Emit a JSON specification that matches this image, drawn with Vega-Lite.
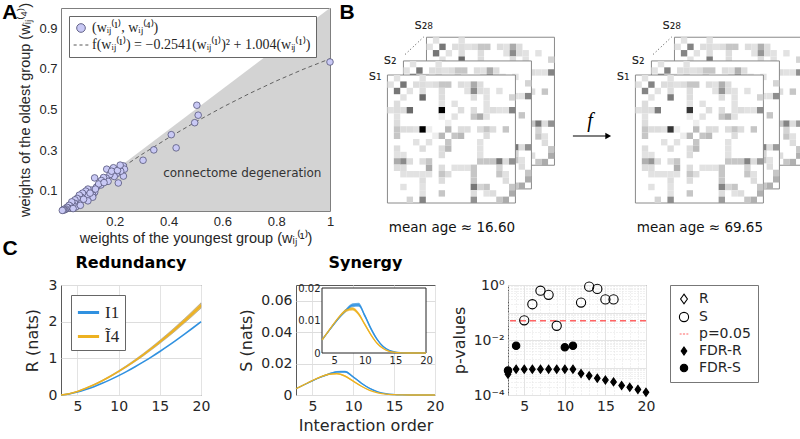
{
"$schema": "https://vega.github.io/schema/vega-lite/v6.json",
"padding": {"left": 1, "top": 1, "right": 0, "bottom": 0},
"background": "white",
"config": {
  "font": "DejaVu Sans",
  "view": {"stroke": "#5a5a5a", "strokeWidth": 1},
  "axis": {"domain": false, "ticks": false, "labelFlush": false, "labelColor": "#262626", "titleColor": "#262626", "titleFontWeight": "normal", "gridColor": "#e3e3e3", "labelOverlap": false, "labelBound": false},
  "legend": {"labelColor": "#262626"}
},
"datasets": {
  "tri": [{"u": 0}, {"u": 1}],
  "fit": [{"x": 0, "f": 0}, {"x": 0.1, "f": 0.0979}, {"x": 0.2, "f": 0.1906}, {"x": 0.3, "f": 0.2783}, {"x": 0.4, "f": 0.3609}, {"x": 0.5, "f": 0.4385}, {"x": 0.6, "f": 0.5109}, {"x": 0.7, "f": 0.5783}, {"x": 0.8, "f": 0.6406}, {"x": 0.9, "f": 0.6978}, {"x": 1.0, "f": 0.7499}],
  "pts": [
    {"x":1.0,"y":0.734,"s":"pts"},{"x":0.505,"y":0.521,"s":"pts"},{"x":0.51,"y":0.472,"s":"pts"},{"x":0.497,"y":0.435,"s":"pts"},{"x":0.41,"y":0.376,"s":"pts"},{"x":0.428,"y":0.311,"s":"pts"},{"x":0.345,"y":0.301,"s":"pts"},{"x":0.305,"y":0.25,"s":"pts"},{"x":0.232,"y":0.222,"s":"pts"},{"x":0.236,"y":0.206,"s":"pts"},{"x":0.232,"y":0.172,"s":"pts"},{"x":0.213,"y":0.138,"s":"pts"},{"x":0.222,"y":0.196,"s":"pts"},{"x":0.206,"y":0.184,"s":"pts"},{"x":0.198,"y":0.17,"s":"pts"},{"x":0.17,"y":0.206,"s":"pts"},{"x":0.182,"y":0.18,"s":"pts"},{"x":0.195,"y":0.213,"s":"pts"},{"x":0.168,"y":0.162,"s":"pts"},{"x":0.175,"y":0.146,"s":"pts"},{"x":0.158,"y":0.165,"s":"pts"},{"x":0.15,"y":0.15,"s":"pts"},{"x":0.148,"y":0.128,"s":"pts"},{"x":0.125,"y":0.163,"s":"pts"},{"x":0.132,"y":0.118,"s":"pts"},{"x":0.14,"y":0.133,"s":"pts"},{"x":0.115,"y":0.103,"s":"pts"},{"x":0.125,"y":0.092,"s":"pts"},{"x":0.118,"y":0.078,"s":"pts"},{"x":0.118,"y":0.068,"s":"pts"},{"x":0.1,"y":0.108,"s":"pts"},{"x":0.092,"y":0.098,"s":"pts"},{"x":0.088,"y":0.078,"s":"pts"},{"x":0.096,"y":0.07,"s":"pts"},{"x":0.1,"y":0.05,"s":"pts"},{"x":0.08,"y":0.088,"s":"pts"},{"x":0.076,"y":0.068,"s":"pts"},{"x":0.068,"y":0.078,"s":"pts"},{"x":0.072,"y":0.055,"s":"pts"},{"x":0.064,"y":0.048,"s":"pts"},{"x":0.06,"y":0.062,"s":"pts"},{"x":0.052,"y":0.055,"s":"pts"},{"x":0.05,"y":0.038,"s":"pts"},{"x":0.055,"y":0.02,"s":"pts"},{"x":0.044,"y":0.03,"s":"pts"},{"x":0.04,"y":0.045,"s":"pts"},{"x":0.036,"y":0.022,"s":"pts"},{"x":0.03,"y":0.028,"s":"pts"},{"x":0.028,"y":0.014,"s":"pts"},{"x":0.022,"y":0.018,"s":"pts"},{"x":0.018,"y":0.01,"s":"pts"},{"x":0.014,"y":0.006,"s":"pts"},{"x":0.01,"y":0.008,"s":"pts"},{"x":0.008,"y":0.004,"s":"pts"},{"x":0.005,"y":0.003,"s":"pts"},{"x":0.072,"y":0.028,"s":"pts"},{"x":0.084,"y":0.058,"s":"pts"},{"x":0.108,"y":0.088,"s":"pts"},{"x":0.128,"y":0.108,"s":"pts"},{"x":0.16,"y":0.14,"s":"pts"},{"x":0.188,"y":0.196,"s":"pts"},{"x":0.21,"y":0.2,"s":"pts"},{"x":0.22,"y":0.226,"s":"pts"},{"x":0.045,"y":0.012,"s":"pts"}
  ],
  "cells": [
    {"i":0,"j":1,"a":0.1,"b":0.1},{"i":0,"j":5,"a":0.1,"b":0.1},{"i":1,"j":2,"a":0.5,"b":0.45},{"i":1,"j":4,"a":0.12,"b":0.12},{"i":1,"j":5,"a":0.12,"b":0.12},{"i":1,"j":6,"a":0.1,"b":0.1},{"i":1,"j":7,"a":0.12,"b":0.12},{"i":1,"j":8,"a":0.2,"b":0.2},{"i":1,"j":9,"a":0.2,"b":0.2},{"i":1,"j":11,"a":0.12,"b":0.12},{"i":1,"j":12,"a":0.1,"b":0.1},{"i":1,"j":13,"a":0.3,"b":0.28},{"i":1,"j":14,"a":0.12,"b":0.12},{"i":2,"j":3,"a":0.1,"b":0.1},{"i":2,"j":5,"a":0.12,"b":0.12},{"i":2,"j":8,"a":0.12,"b":0.12},{"i":2,"j":12,"a":0.1,"b":0.1},{"i":2,"j":13,"a":0.42,"b":0.38},{"i":2,"j":14,"a":0.12,"b":0.12},{"i":2,"j":15,"a":0.1,"b":0.1},{"i":2,"j":17,"a":0.1,"b":0.1},{"i":3,"j":5,"a":0.55,"b":0.48},{"i":3,"j":8,"a":0.12,"b":0.12},{"i":3,"j":13,"a":0.12,"b":0.12},{"i":3,"j":15,"a":0.1,"b":0.1},{"i":3,"j":19,"a":0.15,"b":0.15},{"i":4,"j":8,"a":0.1,"b":0.1},{"i":4,"j":10,"a":0.1,"b":0.1},{"i":4,"j":15,"a":0.1,"b":0.1},{"i":5,"j":8,"a":1.0,"b":0.78},{"i":5,"j":11,"a":0.12,"b":0.12},{"i":5,"j":13,"a":0.12,"b":0.12},{"i":5,"j":15,"a":0.1,"b":0.1},{"i":5,"j":16,"a":0.12,"b":0.12},{"i":5,"j":17,"a":0.1,"b":0.1},{"i":5,"j":18,"a":0.1,"b":0.1},{"i":5,"j":19,"a":0.45,"b":0.41},{"i":6,"j":8,"a":0.06,"b":0.06},{"i":6,"j":10,"a":0.1,"b":0.1},{"i":6,"j":13,"a":0.2,"b":0.2},{"i":6,"j":14,"a":0.3,"b":0.28},{"i":6,"j":15,"a":0.1,"b":0.1},{"i":7,"j":9,"a":0.06,"b":0.06},{"i":8,"j":9,"a":0.25,"b":0.24},{"i":8,"j":11,"a":0.12,"b":0.12},{"i":8,"j":12,"a":0.12,"b":0.12},{"i":8,"j":14,"a":0.12,"b":0.12},{"i":8,"j":15,"a":0.2,"b":0.2},{"i":8,"j":16,"a":0.12,"b":0.12},{"i":8,"j":18,"a":0.2,"b":0.2},{"i":9,"j":10,"a":0.2,"b":0.2},{"i":9,"j":11,"a":0.25,"b":0.24},{"i":9,"j":15,"a":0.12,"b":0.12},{"i":10,"j":14,"a":0.1,"b":0.1},{"i":11,"j":14,"a":0.1,"b":0.1},{"i":12,"j":14,"a":0.1,"b":0.1},{"i":13,"j":14,"a":0.2,"b":0.2},{"i":13,"j":15,"a":0.2,"b":0.2},{"i":13,"j":16,"a":0.2,"b":0.2},{"i":13,"j":17,"a":0.5,"b":0.45},{"i":13,"j":18,"a":0.12,"b":0.12},{"i":13,"j":19,"a":0.4,"b":0.36},{"i":14,"j":17,"a":0.15,"b":0.15},{"i":15,"j":17,"a":0.2,"b":0.2},{"i":15,"j":18,"a":0.1,"b":0.1},{"i":16,"j":18,"a":0.12,"b":0.12},{"i":17,"j":19,"a":0.2,"b":0.2},{"i":18,"j":19,"a":0.3,"b":0.28}
  ],
  "red": [
    {"x":3,"s":"I1","m":0},{"x":4,"s":"I1","m":0.029},{"x":5,"s":"I1","m":0.08},{"x":6,"s":"I1","m":0.148},{"x":7,"s":"I1","m":0.228},{"x":8,"s":"I1","m":0.319},{"x":9,"s":"I1","m":0.42},{"x":10,"s":"I1","m":0.529},{"x":11,"s":"I1","m":0.645},{"x":12,"s":"I1","m":0.771},{"x":13,"s":"I1","m":0.902},{"x":14,"s":"I1","m":1.041},{"x":15,"s":"I1","m":1.187},{"x":16,"s":"I1","m":1.338},{"x":17,"s":"I1","m":1.496},{"x":18,"s":"I1","m":1.659},{"x":19,"s":"I1","m":1.827},{"x":20,"s":"I1","m":2.0},
    {"x":3,"s":"I4","m":0,"lo":0,"hi":0},{"x":4,"s":"I4","m":0.035,"lo":0.034,"hi":0.036},{"x":5,"s":"I4","m":0.098,"lo":0.095,"hi":0.101},{"x":6,"s":"I4","m":0.181,"lo":0.176,"hi":0.186},{"x":7,"s":"I4","m":0.278,"lo":0.27,"hi":0.286},{"x":8,"s":"I4","m":0.389,"lo":0.377,"hi":0.401},{"x":9,"s":"I4","m":0.512,"lo":0.497,"hi":0.527},{"x":10,"s":"I4","m":0.645,"lo":0.626,"hi":0.664},{"x":11,"s":"I4","m":0.787,"lo":0.763,"hi":0.811},{"x":12,"s":"I4","m":0.94,"lo":0.912,"hi":0.968},{"x":13,"s":"I4","m":1.1,"lo":1.067,"hi":1.133},{"x":14,"s":"I4","m":1.27,"lo":1.232,"hi":1.308},{"x":15,"s":"I4","m":1.448,"lo":1.405,"hi":1.491},{"x":16,"s":"I4","m":1.632,"lo":1.583,"hi":1.681},{"x":17,"s":"I4","m":1.824,"lo":1.769,"hi":1.879},{"x":18,"s":"I4","m":2.023,"lo":1.962,"hi":2.084},{"x":19,"s":"I4","m":2.228,"lo":2.161,"hi":2.295},{"x":20,"s":"I4","m":2.44,"lo":2.367,"hi":2.513}
  ],
  "syn": [
    {"x":3,"s":"I1","m":0.004,"lo":0.0038,"hi":0.0042},{"x":4,"s":"I1","m":0.0065,"lo":0.0062,"hi":0.0068},{"x":5,"s":"I1","m":0.009,"lo":0.0087,"hi":0.0093},{"x":6,"s":"I1","m":0.0113,"lo":0.0109,"hi":0.0117},{"x":7,"s":"I1","m":0.0133,"lo":0.0128,"hi":0.0138},{"x":8,"s":"I1","m":0.0147,"lo":0.0141,"hi":0.0153},{"x":9,"s":"I1","m":0.0148,"lo":0.0142,"hi":0.0155},{"x":10,"s":"I1","m":0.0115,"lo":0.0109,"hi":0.0121},{"x":11,"s":"I1","m":0.0075,"lo":0.007,"hi":0.008},{"x":12,"s":"I1","m":0.0042,"lo":0.0039,"hi":0.0046},{"x":13,"s":"I1","m":0.002,"lo":0.0018,"hi":0.0022},{"x":14,"s":"I1","m":0.0008,"lo":0.0007,"hi":0.0009},{"x":15,"s":"I1","m":0.0003,"lo":0.0002,"hi":0.0004},{"x":16,"s":"I1","m":0.0001,"lo":0.00005,"hi":0.00015},{"x":17,"s":"I1","m":0,"lo":0,"hi":0.00003},{"x":18,"s":"I1","m":0,"lo":0,"hi":0},{"x":19,"s":"I1","m":0,"lo":0,"hi":0},{"x":20,"s":"I1","m":0,"lo":0,"hi":0},
    {"x":3,"s":"I4","m":0.004,"lo":0.0038,"hi":0.0042},{"x":4,"s":"I4","m":0.0066,"lo":0.0063,"hi":0.0069},{"x":5,"s":"I4","m":0.0092,"lo":0.0088,"hi":0.0095},{"x":6,"s":"I4","m":0.0115,"lo":0.0111,"hi":0.0119},{"x":7,"s":"I4","m":0.0132,"lo":0.0127,"hi":0.0137},{"x":8,"s":"I4","m":0.0136,"lo":0.0131,"hi":0.0141},{"x":9,"s":"I4","m":0.012,"lo":0.0115,"hi":0.0125},{"x":10,"s":"I4","m":0.0088,"lo":0.0084,"hi":0.0092},{"x":11,"s":"I4","m":0.0056,"lo":0.0053,"hi":0.0059},{"x":12,"s":"I4","m":0.003,"lo":0.0028,"hi":0.0032},{"x":13,"s":"I4","m":0.0014,"lo":0.0013,"hi":0.0015},{"x":14,"s":"I4","m":0.0005,"lo":0.0004,"hi":0.0006},{"x":15,"s":"I4","m":0.0002,"lo":0.00015,"hi":0.00025},{"x":16,"s":"I4","m":0.00005,"lo":0.00003,"hi":0.00007},{"x":17,"s":"I4","m":0,"lo":0,"hi":0},{"x":18,"s":"I4","m":0,"lo":0,"hi":0},{"x":19,"s":"I4","m":0,"lo":0,"hi":0},{"x":20,"s":"I4","m":0,"lo":0,"hi":0}
  ],
  "pv": [
    {"x":3,"p":0.00057,"s":"FDR-R"},{"x":4,"p":0.00087,"s":"FDR-R"},{"x":5,"p":0.00087,"s":"FDR-R"},{"x":6,"p":0.00087,"s":"FDR-R"},{"x":7,"p":0.00087,"s":"FDR-R"},{"x":8,"p":0.00087,"s":"FDR-R"},{"x":9,"p":0.00087,"s":"FDR-R"},{"x":10,"p":0.00087,"s":"FDR-R"},{"x":11,"p":0.00087,"s":"FDR-R"},{"x":12,"p":0.0006,"s":"FDR-R"},{"x":13,"p":0.0005,"s":"FDR-R"},{"x":14,"p":0.00041,"s":"FDR-R"},{"x":15,"p":0.00035,"s":"FDR-R"},{"x":16,"p":0.0003,"s":"FDR-R"},{"x":17,"p":0.00022,"s":"FDR-R"},{"x":18,"p":0.00019,"s":"FDR-R"},{"x":19,"p":0.00016,"s":"FDR-R"},{"x":20,"p":0.000125,"s":"FDR-R"},
    {"x":3,"p":0.00078,"s":"FDR-S"},{"x":4,"p":0.0062,"s":"FDR-S"},{"x":10,"p":0.0054,"s":"FDR-S"},{"x":11,"p":0.0062,"s":"FDR-S"},
    {"x":5,"p":0.052,"s":"S"},{"x":6,"p":0.2,"s":"S"},{"x":7,"p":0.62,"s":"S"},{"x":8,"p":0.44,"s":"S"},{"x":9,"p":0.033,"s":"S"},{"x":12,"p":0.23,"s":"S"},{"x":13,"p":0.87,"s":"S"},{"x":14,"p":0.72,"s":"S"},{"x":15,"p":0.3,"s":"S"},{"x":16,"p":0.3,"s":"S"}
  ]
},
"spacing": -8,
"resolve": {"scale": {"color": "independent", "fill": "independent", "stroke": "independent", "shape": "independent", "size": "independent"}, "legend": {"color": "independent", "fill": "independent", "stroke": "independent", "shape": "independent", "size": "independent"}},
"vconcat": [
{
  "spacing": 12,
  "bounds": "flush",
  "resolve": {"scale": {"color": "independent", "fill": "independent", "stroke": "independent", "shape": "independent", "size": "independent"}, "legend": {"color": "independent", "fill": "independent", "stroke": "independent", "shape": "independent", "size": "independent"}},
  "hconcat": [
  {
    "width": 269, "height": 203,
    "view": {"stroke": "#7f7f7f"},
    "layer": [
      {"data": {"name": "tri"}, "mark": {"type": "area", "color": "#d3d3d3"},
       "encoding": {
         "x": {"field": "u", "type": "quantitative", "scale": {"domain": [0, 1], "nice": false}, "axis": {"values": [0.2, 0.4, 0.6, 0.8, 1], "format": "~g", "title": "weights of the youngest group (wᵢⱼ⁽¹⁾)", "labelFont": "Liberation Sans", "labelFontSize": 13, "titleFont": "Liberation Sans", "titleFontSize": 14.5, "labelPadding": 4, "titlePadding": 3, "grid": false, "labelOverlap": false}},
         "y": {"field": "u", "type": "quantitative", "scale": {"domain": [0, 1], "nice": false}, "axis": {"values": [0.1, 0.2, 0.3, 0.4, 0.5, 0.6, 0.7, 0.8, 0.9, 1], "format": "~g", "title": "weights of the oldest group (wᵢⱼ⁽⁴⁾)", "labelFont": "Liberation Sans", "labelFontSize": 13, "titleFont": "Liberation Sans", "titleFontSize": 14.5, "labelPadding": 4, "titlePadding": 6, "grid": false, "labelOverlap": false}},
         "y2": {"datum": 0}
       }},
      {"data": {"name": "fit"}, "mark": {"type": "line", "color": "#555555", "strokeDash": [4, 3], "strokeWidth": 0.9},
       "encoding": {"x": {"field": "x", "type": "quantitative"}, "y": {"field": "f", "type": "quantitative"}}},
      {"data": {"name": "pts"}, "mark": {"type": "point", "filled": true, "size": 44, "strokeWidth": 0.8, "opacity": 1},
       "encoding": {
         "x": {"field": "x", "type": "quantitative"},
         "y": {"field": "y", "type": "quantitative"},
         "shape": {"field": "s", "type": "nominal", "scale": {"domain": ["pts", "fit"], "range": ["circle", "M-1.7,0H-1.0M-0.35,0H0.35M1.0,0H1.7"]},
           "legend": {"title": null, "orient": "top-left", "offset": 8, "labelExpr": "datum.value == 'pts' ? '(wᵢⱼ⁽¹⁾, wᵢⱼ⁽⁴⁾)' : 'f(wᵢⱼ⁽¹⁾) = −0.2541(wᵢⱼ⁽¹⁾)² + 1.004(wᵢⱼ⁽¹⁾)'", "labelFont": "Liberation Serif", "labelFontSize": 14, "fillColor": "#ffffff", "strokeColor": "#666666", "padding": 5, "symbolSize": 75, "symbolStrokeWidth": 0.9, "labelLimit": 400, "rowPadding": 3}},
         "fill": {"field": "s", "type": "nominal", "scale": {"domain": ["pts", "fit"], "range": ["#c9c9f5", "transparent"]}},
         "stroke": {"field": "s", "type": "nominal", "scale": {"domain": ["pts", "fit"], "range": ["#55557a", "#444444"]}}
       }},
      {"data": {"values": [{}]}, "mark": {"type": "text", "font": "DejaVu Sans", "fontSize": 12, "color": "#333333"},
       "encoding": {"x": {"datum": 0.674}, "y": {"datum": 0.187}, "text": {"value": "connectome degeneration"}}},
      {"data": {"values": [{}]}, "mark": {"type": "text", "font": "Liberation Sans", "fontSize": 21, "fontWeight": "bold", "color": "#000000"},
       "encoding": {"x": {"datum": -0.19}, "y": {"datum": 0.975}, "text": {"value": "A"}}}
    ]
  },
  {
    "width": 460, "height": 203,
    "view": {"stroke": null},
    "layer": [
      {"data": {"values": [{}]}, "mark": {"type": "rect", "fill": "#ffffff", "stroke": "#8a8a8a", "strokeWidth": 1},
       "encoding": {"x": {"datum": 6.1, "type": "quantitative", "scale": {"domain": [-7.1, 64.78], "nice": false, "zero": false}, "axis": null}, "x2": {"datum": 26.1}, "y": {"datum": -5.9, "type": "quantitative", "scale": {"domain": [-10.47, 21.25], "nice": false, "zero": false, "reverse": true}, "axis": null}, "y2": {"datum": 14.1}}},
      {"data": {"name": "cells"}, "transform": [{"fold": ["i", "j"], "as": ["k", "row"]}, {"calculate": "(datum.k == 'i' ? datum.j : datum.i) + 6.1", "as": "x0"}, {"calculate": "datum.x0 + 1", "as": "x1"}, {"calculate": "datum.row - 5.9", "as": "y0"}, {"calculate": "datum.y0 + 1", "as": "y1"}],
       "mark": {"type": "rect", "strokeWidth": 0},
       "encoding": {"x": {"field": "x0", "type": "quantitative", "scale": {"domain": [-7.1, 64.78], "nice": false, "zero": false}, "axis": null}, "x2": {"field": "x1"}, "y": {"field": "y0", "type": "quantitative", "scale": {"domain": [-10.47, 21.25], "nice": false, "zero": false, "reverse": true}, "axis": null}, "y2": {"field": "y1"}, "color": {"field": "a", "type": "quantitative", "scale": {"domain": [0, 1], "range": ["#ffffff", "#000000"]}, "legend": null}}},
      {"data": {"values": [{}]}, "mark": {"type": "rect", "fill": "#ffffff", "stroke": "#8a8a8a", "strokeWidth": 1},
       "encoding": {"x": {"datum": 2.5, "type": "quantitative", "scale": {"domain": [-7.1, 64.78], "nice": false, "zero": false}, "axis": null}, "x2": {"datum": 22.5}, "y": {"datum": -2.2, "type": "quantitative", "scale": {"domain": [-10.47, 21.25], "nice": false, "zero": false, "reverse": true}, "axis": null}, "y2": {"datum": 17.8}}},
      {"data": {"name": "cells"}, "transform": [{"fold": ["i", "j"], "as": ["k", "row"]}, {"calculate": "(datum.k == 'i' ? datum.j : datum.i) + 2.5", "as": "x0"}, {"calculate": "datum.x0 + 1", "as": "x1"}, {"calculate": "datum.row - 2.2", "as": "y0"}, {"calculate": "datum.y0 + 1", "as": "y1"}],
       "mark": {"type": "rect", "strokeWidth": 0},
       "encoding": {"x": {"field": "x0", "type": "quantitative", "scale": {"domain": [-7.1, 64.78], "nice": false, "zero": false}, "axis": null}, "x2": {"field": "x1"}, "y": {"field": "y0", "type": "quantitative", "scale": {"domain": [-10.47, 21.25], "nice": false, "zero": false, "reverse": true}, "axis": null}, "y2": {"field": "y1"}, "color": {"field": "a", "type": "quantitative", "scale": {"domain": [0, 1], "range": ["#ffffff", "#000000"]}, "legend": null}}},
      {"data": {"values": [{}]}, "mark": {"type": "rect", "fill": "#ffffff", "stroke": "#8a8a8a", "strokeWidth": 1},
       "encoding": {"x": {"datum": 0, "type": "quantitative", "scale": {"domain": [-7.1, 64.78], "nice": false, "zero": false}, "axis": null}, "x2": {"datum": 20}, "y": {"datum": 0, "type": "quantitative", "scale": {"domain": [-10.47, 21.25], "nice": false, "zero": false, "reverse": true}, "axis": null}, "y2": {"datum": 20}}},
      {"data": {"name": "cells"}, "transform": [{"fold": ["i", "j"], "as": ["k", "row"]}, {"calculate": "(datum.k == 'i' ? datum.j : datum.i)", "as": "x0"}, {"calculate": "datum.x0 + 1", "as": "x1"}, {"calculate": "datum.row", "as": "y0"}, {"calculate": "datum.y0 + 1", "as": "y1"}],
       "mark": {"type": "rect", "strokeWidth": 0},
       "encoding": {"x": {"field": "x0", "type": "quantitative", "scale": {"domain": [-7.1, 64.78], "nice": false, "zero": false}, "axis": null}, "x2": {"field": "x1"}, "y": {"field": "y0", "type": "quantitative", "scale": {"domain": [-10.47, 21.25], "nice": false, "zero": false, "reverse": true}, "axis": null}, "y2": {"field": "y1"}, "color": {"field": "a", "type": "quantitative", "scale": {"domain": [0, 1], "range": ["#ffffff", "#000000"]}, "legend": null}}},
      {"data": {"values": [{}]}, "mark": {"type": "rect", "fill": "#ffffff", "stroke": "#8a8a8a", "strokeWidth": 1},
       "encoding": {"x": {"datum": 44.85, "type": "quantitative", "scale": {"domain": [-7.1, 64.78], "nice": false, "zero": false}, "axis": null}, "x2": {"datum": 64.85}, "y": {"datum": -5.9, "type": "quantitative", "scale": {"domain": [-10.47, 21.25], "nice": false, "zero": false, "reverse": true}, "axis": null}, "y2": {"datum": 14.1}}},
      {"data": {"name": "cells"}, "transform": [{"fold": ["i", "j"], "as": ["k", "row"]}, {"calculate": "(datum.k == 'i' ? datum.j : datum.i) + 44.85", "as": "x0"}, {"calculate": "datum.x0 + 1", "as": "x1"}, {"calculate": "datum.row - 5.9", "as": "y0"}, {"calculate": "datum.y0 + 1", "as": "y1"}],
       "mark": {"type": "rect", "strokeWidth": 0},
       "encoding": {"x": {"field": "x0", "type": "quantitative", "scale": {"domain": [-7.1, 64.78], "nice": false, "zero": false}, "axis": null}, "x2": {"field": "x1"}, "y": {"field": "y0", "type": "quantitative", "scale": {"domain": [-10.47, 21.25], "nice": false, "zero": false, "reverse": true}, "axis": null}, "y2": {"field": "y1"}, "color": {"field": "b", "type": "quantitative", "scale": {"domain": [0, 1], "range": ["#ffffff", "#000000"]}, "legend": null}}},
      {"data": {"values": [{}]}, "mark": {"type": "rect", "fill": "#ffffff", "stroke": "#8a8a8a", "strokeWidth": 1},
       "encoding": {"x": {"datum": 41.25, "type": "quantitative", "scale": {"domain": [-7.1, 64.78], "nice": false, "zero": false}, "axis": null}, "x2": {"datum": 61.25}, "y": {"datum": -2.2, "type": "quantitative", "scale": {"domain": [-10.47, 21.25], "nice": false, "zero": false, "reverse": true}, "axis": null}, "y2": {"datum": 17.8}}},
      {"data": {"name": "cells"}, "transform": [{"fold": ["i", "j"], "as": ["k", "row"]}, {"calculate": "(datum.k == 'i' ? datum.j : datum.i) + 41.25", "as": "x0"}, {"calculate": "datum.x0 + 1", "as": "x1"}, {"calculate": "datum.row - 2.2", "as": "y0"}, {"calculate": "datum.y0 + 1", "as": "y1"}],
       "mark": {"type": "rect", "strokeWidth": 0},
       "encoding": {"x": {"field": "x0", "type": "quantitative", "scale": {"domain": [-7.1, 64.78], "nice": false, "zero": false}, "axis": null}, "x2": {"field": "x1"}, "y": {"field": "y0", "type": "quantitative", "scale": {"domain": [-10.47, 21.25], "nice": false, "zero": false, "reverse": true}, "axis": null}, "y2": {"field": "y1"}, "color": {"field": "b", "type": "quantitative", "scale": {"domain": [0, 1], "range": ["#ffffff", "#000000"]}, "legend": null}}},
      {"data": {"values": [{}]}, "mark": {"type": "rect", "fill": "#ffffff", "stroke": "#8a8a8a", "strokeWidth": 1},
       "encoding": {"x": {"datum": 38.75, "type": "quantitative", "scale": {"domain": [-7.1, 64.78], "nice": false, "zero": false}, "axis": null}, "x2": {"datum": 58.75}, "y": {"datum": 0, "type": "quantitative", "scale": {"domain": [-10.47, 21.25], "nice": false, "zero": false, "reverse": true}, "axis": null}, "y2": {"datum": 20}}},
      {"data": {"name": "cells"}, "transform": [{"fold": ["i", "j"], "as": ["k", "row"]}, {"calculate": "(datum.k == 'i' ? datum.j : datum.i) + 38.75", "as": "x0"}, {"calculate": "datum.x0 + 1", "as": "x1"}, {"calculate": "datum.row", "as": "y0"}, {"calculate": "datum.y0 + 1", "as": "y1"}],
       "mark": {"type": "rect", "strokeWidth": 0},
       "encoding": {"x": {"field": "x0", "type": "quantitative", "scale": {"domain": [-7.1, 64.78], "nice": false, "zero": false}, "axis": null}, "x2": {"field": "x1"}, "y": {"field": "y0", "type": "quantitative", "scale": {"domain": [-10.47, 21.25], "nice": false, "zero": false, "reverse": true}, "axis": null}, "y2": {"field": "y1"}, "color": {"field": "b", "type": "quantitative", "scale": {"domain": [0, 1], "range": ["#ffffff", "#000000"]}, "legend": null}}},
      {"data": {"values": [{}]}, "mark": {"type": "rule", "strokeDash": [1, 2.5], "color": "#444444", "strokeWidth": 1},
       "encoding": {"x": {"datum": 2.78, "type": "quantitative", "scale": {"domain": [-7.1, 64.78], "nice": false, "zero": false}, "axis": null}, "x2": {"datum": 5.66}, "y": {"datum": -3.23, "type": "quantitative", "scale": {"domain": [-10.47, 21.25], "nice": false, "zero": false, "reverse": true}, "axis": null}, "y2": {"datum": -5.94}}},
      {"data": {"values": [{}]}, "mark": {"type": "rule", "strokeDash": [1, 2.5], "color": "#444444", "strokeWidth": 1},
       "encoding": {"x": {"datum": 41.53, "type": "quantitative", "scale": {"domain": [-7.1, 64.78], "nice": false, "zero": false}, "axis": null}, "x2": {"datum": 44.41}, "y": {"datum": -3.23, "type": "quantitative", "scale": {"domain": [-10.47, 21.25], "nice": false, "zero": false, "reverse": true}, "axis": null}, "y2": {"datum": -5.94}}},
      {"data": {"values": [{}]}, "mark": {"type": "rule", "color": "#000000", "strokeWidth": 1.2},
       "encoding": {"x": {"datum": 28.98, "type": "quantitative", "scale": {"domain": [-7.1, 64.78], "nice": false, "zero": false}, "axis": null}, "x2": {"datum": 34.2}, "y": {"datum": 9.53, "type": "quantitative", "scale": {"domain": [-10.47, 21.25], "nice": false, "zero": false, "reverse": true}, "axis": null}}},
      {"data": {"values": [{}]}, "mark": {"type": "point", "shape": "triangle-right", "filled": true, "color": "#000000", "size": 45, "opacity": 1},
       "encoding": {"x": {"datum": 34.5, "type": "quantitative", "scale": {"domain": [-7.1, 64.78], "nice": false, "zero": false}, "axis": null}, "y": {"datum": 9.53, "type": "quantitative", "scale": {"domain": [-10.47, 21.25], "nice": false, "zero": false, "reverse": true}, "axis": null}}},
      {"data": {"values": [{}]}, "mark": {"type": "text", "font": "Liberation Serif", "fontStyle": "italic", "fontSize": 20, "color": "#000000"},
       "encoding": {"x": {"datum": 31.64, "type": "quantitative", "scale": {"domain": [-7.1, 64.78], "nice": false, "zero": false}, "axis": null}, "y": {"datum": 7.2, "type": "quantitative", "scale": {"domain": [-10.47, 21.25], "nice": false, "zero": false, "reverse": true}, "axis": null}, "text": {"value": "f"}}},
      {"data": {"values": [{}]}, "mark": {"type": "text", "font": "Liberation Sans", "fontSize": 21, "fontWeight": "bold", "color": "#000000"},
       "encoding": {"x": {"datum": -6.32, "type": "quantitative", "scale": {"domain": [-7.1, 64.78], "nice": false, "zero": false}, "axis": null}, "y": {"datum": -9.69, "type": "quantitative", "scale": {"domain": [-10.47, 21.25], "nice": false, "zero": false, "reverse": true}, "axis": null}, "text": {"value": "B"}}},
      {"data": {"values": [{}]}, "mark": {"type": "text", "fontSize": 14, "color": "#222222"},
       "encoding": {"x": {"datum": -1.9, "type": "quantitative", "scale": {"domain": [-7.1, 64.78], "nice": false, "zero": false}, "axis": null}, "y": {"datum": 0.16, "type": "quantitative", "scale": {"domain": [-10.47, 21.25], "nice": false, "zero": false, "reverse": true}, "axis": null}, "text": {"value": "s₁"}}},
      {"data": {"values": [{}]}, "mark": {"type": "text", "fontSize": 14, "color": "#222222"},
       "encoding": {"x": {"datum": 0.44, "type": "quantitative", "scale": {"domain": [-7.1, 64.78], "nice": false, "zero": false}, "axis": null}, "y": {"datum": -2.3, "type": "quantitative", "scale": {"domain": [-10.47, 21.25], "nice": false, "zero": false, "reverse": true}, "axis": null}, "text": {"value": "s₂"}}},
      {"data": {"values": [{}]}, "mark": {"type": "text", "fontSize": 14, "color": "#222222"},
       "encoding": {"x": {"datum": 5.66, "type": "quantitative", "scale": {"domain": [-7.1, 64.78], "nice": false, "zero": false}, "axis": null}, "y": {"datum": -7.8, "type": "quantitative", "scale": {"domain": [-10.47, 21.25], "nice": false, "zero": false, "reverse": true}, "axis": null}, "text": {"value": "s₂₈"}}},
      {"data": {"values": [{}]}, "mark": {"type": "text", "fontSize": 14, "color": "#222222"},
       "encoding": {"x": {"datum": 36.85, "type": "quantitative", "scale": {"domain": [-7.1, 64.78], "nice": false, "zero": false}, "axis": null}, "y": {"datum": 0.16, "type": "quantitative", "scale": {"domain": [-10.47, 21.25], "nice": false, "zero": false, "reverse": true}, "axis": null}, "text": {"value": "s₁"}}},
      {"data": {"values": [{}]}, "mark": {"type": "text", "fontSize": 14, "color": "#222222"},
       "encoding": {"x": {"datum": 39.19, "type": "quantitative", "scale": {"domain": [-7.1, 64.78], "nice": false, "zero": false}, "axis": null}, "y": {"datum": -2.3, "type": "quantitative", "scale": {"domain": [-10.47, 21.25], "nice": false, "zero": false, "reverse": true}, "axis": null}, "text": {"value": "s₂"}}},
      {"data": {"values": [{}]}, "mark": {"type": "text", "fontSize": 14, "color": "#222222"},
       "encoding": {"x": {"datum": 44.41, "type": "quantitative", "scale": {"domain": [-7.1, 64.78], "nice": false, "zero": false}, "axis": null}, "y": {"datum": -7.8, "type": "quantitative", "scale": {"domain": [-10.47, 21.25], "nice": false, "zero": false, "reverse": true}, "axis": null}, "text": {"value": "s₂₈"}}},
      {"data": {"values": [{}]}, "mark": {"type": "text", "fontSize": 13.5, "color": "#111111"},
       "encoding": {"x": {"datum": 10.08, "type": "quantitative", "scale": {"domain": [-7.1, 64.78], "nice": false, "zero": false}, "axis": null}, "y": {"datum": 23.9, "type": "quantitative", "scale": {"domain": [-10.47, 21.25], "nice": false, "zero": false, "reverse": true}, "axis": null}, "text": {"value": "mean age ≈ 16.60"}}},
      {"data": {"values": [{}]}, "mark": {"type": "text", "fontSize": 13.5, "color": "#111111"},
       "encoding": {"x": {"datum": 48.83, "type": "quantitative", "scale": {"domain": [-7.1, 64.78], "nice": false, "zero": false}, "axis": null}, "y": {"datum": 23.9, "type": "quantitative", "scale": {"domain": [-10.47, 21.25], "nice": false, "zero": false, "reverse": true}, "axis": null}, "text": {"value": "mean age ≈ 69.65"}}}
    ]
  }
  ]
},
{
  "spacing": 95,
  "bounds": "flush",
  "resolve": {"scale": {"color": "independent", "fill": "independent", "stroke": "independent", "shape": "independent", "size": "independent"}, "legend": {"color": "independent", "fill": "independent", "stroke": "independent", "shape": "independent", "size": "independent"}},
  "hconcat": [
  {
    "width": 140, "height": 110,
    "layer": [
      {"data": {"name": "red"}, "transform": [{"filter": "datum.s == 'I4'"}],
       "mark": {"type": "area", "color": "#EDB120", "opacity": 0.85, "stroke": "#8c8c8c", "strokeWidth": 0.6, "interpolate": "monotone"},
       "encoding": {
         "x": {"field": "x", "type": "quantitative", "scale": {"domain": [3, 20], "nice": false, "zero": false}, "axis": {"values": [5, 10, 15, 20], "grid": true, "title": null, "labelFontSize": 14, "labelPadding": 4, "labelOverlap": false}},
         "y": {"field": "lo", "type": "quantitative", "scale": {"domain": [0, 3], "nice": false}, "axis": {"tickCount": 3, "grid": true, "gridColor": "#dddddd", "title": "R (nats)", "labelFontSize": 14, "titleFontSize": 16, "titlePadding": 8, "labelPadding": 4, "labelOverlap": false}},
         "y2": {"field": "hi"}
       }},
      {"data": {"name": "red"}, "mark": {"type": "line", "strokeWidth": 1.6, "interpolate": "monotone"},
       "encoding": {
         "x": {"field": "x", "type": "quantitative"},
         "y": {"field": "m", "type": "quantitative"},
         "color": {"field": "s", "type": "nominal", "scale": {"domain": ["I1", "I4"], "range": ["#3091e0", "#EDB120"]},
           "legend": {"title": null, "orient": "top-left", "offset": 10, "labelExpr": "datum.value == 'I1' ? 'I1' : 'Ĩ4'", "labelFont": "Liberation Serif", "labelFontSize": 17, "symbolType": "stroke", "symbolSize": 450, "symbolStrokeWidth": 3, "fillColor": "#ffffff", "strokeColor": "#666666", "padding": 5, "rowPadding": 3}}
       }},
      {"data": {"values": [{}]}, "mark": {"type": "text", "fontSize": 16, "fontWeight": "bold", "color": "#000000"},
       "encoding": {"x": {"datum": 11.5}, "y": {"datum": 3.6}, "text": {"value": "Redundancy"}}},
      {"data": {"values": [{}]}, "mark": {"type": "text", "font": "Liberation Sans", "fontSize": 21, "fontWeight": "bold", "color": "#000000"},
       "encoding": {"x": {"datum": -3.19}, "y": {"datum": 3.98}, "text": {"value": "C"}}}
    ]
  },
  {
    "spacing": 73,
    "bounds": "flush",
    "resolve": {"scale": {"color": "independent", "fill": "independent", "stroke": "independent", "shape": "independent", "size": "independent"}, "legend": {"color": "independent", "fill": "independent", "stroke": "independent", "shape": "independent", "size": "independent"}},
    "hconcat": [
    {
      "width": 139, "height": 110,
      "resolve": {"scale": {"x": "independent", "y": "independent"}, "axis": {"x": "independent", "y": "independent"}},
      "layer": [
        {"layer": [
          {"data": {"name": "syn"}, "mark": {"type": "area", "opacity": 0.75, "interpolate": "monotone"},
           "encoding": {
             "x": {"field": "x", "type": "quantitative", "scale": {"domain": [3, 20], "nice": false, "zero": false}, "axis": {"values": [5, 10, 15, 20], "grid": true, "title": "Interaction order", "titleFontSize": 16, "labelFontSize": 14, "labelPadding": 4, "titlePadding": 4, "labelOverlap": false}},
             "y": {"field": "lo", "type": "quantitative", "scale": {"domain": [0, 0.07], "nice": false}, "axis": {"tickCount": 4, "format": "~g", "grid": true, "gridColor": "#dddddd", "title": "S (nats)", "labelFontSize": 14, "titleFontSize": 16, "titlePadding": 6, "labelPadding": 4, "labelOverlap": false}},
             "y2": {"field": "hi"},
             "color": {"field": "s", "type": "nominal", "scale": {"domain": ["I1", "I4"], "range": ["#3091e0", "#EDB120"]}, "legend": null}
           }},
          {"data": {"name": "syn"}, "mark": {"type": "line", "strokeWidth": 1.3, "interpolate": "monotone"},
           "encoding": {"x": {"field": "x", "type": "quantitative"}, "y": {"field": "m", "type": "quantitative"}, "color": {"field": "s", "type": "nominal", "legend": null}}},
          {"data": {"values": [{}]}, "mark": {"type": "text", "fontSize": 16, "fontWeight": "bold", "color": "#000000"},
           "encoding": {"x": {"datum": 11.5}, "y": {"datum": 0.084}, "text": {"value": "Synergy"}}}
        ]},
        {"layer": [
          {"data": {"values": [{}]}, "mark": {"type": "rect", "fill": "#ffffff", "stroke": "#222222", "strokeWidth": 1},
           "encoding": {
             "x": {"datum": 3, "type": "quantitative", "scale": {"domain": [3, 20], "nice": false, "zero": false, "range": [26, 130]}, "axis": {"orient": "bottom", "offset": -42, "tickCount": 4, "labelFontSize": 10, "title": null, "grid": false, "labelPadding": 2, "labelOverlap": false}},
             "x2": {"datum": 20},
             "y": {"datum": 0, "type": "quantitative", "scale": {"domain": [0, 0.02], "nice": false, "range": [68, 3]}, "axis": {"orient": "left", "offset": -26, "tickCount": 2, "format": "~g", "labelFontSize": 10, "title": null, "grid": false, "labelPadding": 2, "labelOverlap": false}},
             "y2": {"datum": 0.02}
           }},
          {"data": {"name": "syn"}, "mark": {"type": "area", "opacity": 0.75, "interpolate": "monotone"},
           "encoding": {"x": {"field": "x", "type": "quantitative", "scale": {"domain": [3, 20], "nice": false, "zero": false, "range": [26, 130]}}, "y": {"field": "lo", "type": "quantitative", "scale": {"domain": [0, 0.02], "nice": false, "range": [68, 3]}}, "y2": {"field": "hi"}, "color": {"field": "s", "type": "nominal", "legend": null}}},
          {"data": {"name": "syn"}, "mark": {"type": "line", "strokeWidth": 1.3, "interpolate": "monotone"},
           "encoding": {"x": {"field": "x", "type": "quantitative", "scale": {"domain": [3, 20], "nice": false, "zero": false, "range": [26, 130]}}, "y": {"field": "m", "type": "quantitative", "scale": {"domain": [0, 0.02], "nice": false, "range": [68, 3]}}, "color": {"field": "s", "type": "nominal", "legend": null}}}
        ]}
      ]
    },
    {
      "width": 138, "height": 110,
      "layer": [
        {"data": {"values": [{}]}, "mark": {"type": "rule", "color": "#ff6464", "strokeDash": [6, 4], "strokeWidth": 1.6},
         "encoding": {"y": {"datum": 0.05, "type": "quantitative", "scale": {"type": "log", "domain": [0.0001, 1], "nice": false}}}},
        {"data": {"name": "pv"}, "mark": {"type": "point", "strokeWidth": 1.1, "opacity": 1},
         "encoding": {
           "x": {"field": "x", "type": "quantitative", "scale": {"domain": [3, 20], "nice": false, "zero": false},
             "axis": {"values": [3,4,5,6,7,8,9,10,11,12,13,14,15,16,17,18,19,20], "labelExpr": "datum.value % 5 == 0 ? datum.label : ''", "grid": true, "gridDash": {"condition": {"test": "datum.value % 5 != 0", "value": [1, 2]}, "value": []}, "title": null, "labelFontSize": 14, "labelPadding": 4}},
           "y": {"field": "p", "type": "quantitative", "scale": {"type": "log", "domain": [0.0001, 1], "nice": false},
             "axis": {"values": [0.0001,0.0002,0.0003,0.0004,0.0005,0.0006,0.0007,0.0008,0.0009,0.001,0.002,0.003,0.004,0.005,0.006,0.007,0.008,0.009,0.01,0.02,0.03,0.04,0.05,0.06,0.07,0.08,0.09,0.1,0.2,0.3,0.4,0.5,0.6,0.7,0.8,0.9,1], "labelExpr": "datum.value >= 0.99 ? '10⁰' : (abs(datum.value - 0.01) < 0.0000001 ? '10⁻²' : (datum.value < 0.000101 ? '10⁻⁴' : ''))", "grid": true, "gridDash": {"condition": {"test": "abs(log(datum.value)/LN10 - round(log(datum.value)/LN10)) > 0.001", "value": [1, 2]}, "value": []}, "title": "p-values", "labelFontSize": 14, "titleFontSize": 16, "titlePadding": 6, "labelPadding": 4}},
           "shape": {"field": "s", "type": "nominal", "scale": {"domain": ["R", "S", "p=0.05", "FDR-R", "FDR-S"], "range": ["M0,-1L0.7,0L0,1L-0.7,0Z", "circle", "M-1,0H-0.55M-0.25,0H0.25M0.55,0H1", "M0,-1L0.7,0L0,1L-0.7,0Z", "circle"]},
             "legend": {"title": null, "orient": "right", "offset": 24, "labelFontSize": 14, "strokeColor": "#777777", "fillColor": "#ffffff", "padding": 7, "rowPadding": 3, "symbolStrokeWidth": 1.1, "labelOffset": 8}},
           "fill": {"field": "s", "type": "nominal", "scale": {"domain": ["R", "S", "p=0.05", "FDR-R", "FDR-S"], "range": ["transparent", "transparent", "transparent", "#000000", "#000000"]}},
           "stroke": {"field": "s", "type": "nominal", "scale": {"domain": ["R", "S", "p=0.05", "FDR-R", "FDR-S"], "range": ["#000000", "#000000", "#ff6464", "#000000", "#000000"]}},
           "size": {"field": "s", "type": "nominal", "scale": {"domain": ["R", "S", "p=0.05", "FDR-R", "FDR-S"], "range": [95, 55, 300, 95, 55]}}
         }}
      ]
    }
    ]
  }
  ]
}
]
}
